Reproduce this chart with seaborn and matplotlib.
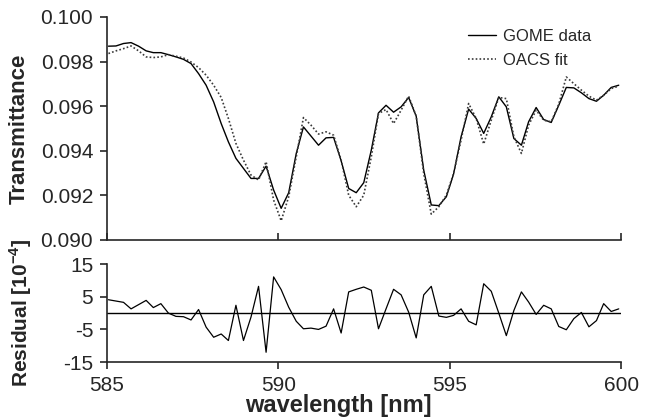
import numpy as np
import pandas as pd
import matplotlib
matplotlib.use('Agg')
import matplotlib.pyplot as plt
import seaborn as sns

# wavelength grid of the GOME channel (nm)
wavelength = [585.04, 585.26, 585.48, 585.70, 585.92, 586.14, 586.35, 586.57, 586.79, 587.01,
              587.23, 587.45, 587.67, 587.89, 588.11, 588.33, 588.54, 588.76, 588.98, 589.20,
              589.42, 589.64, 589.86, 590.08, 590.30, 590.52, 590.73, 590.95, 591.17, 591.39,
              591.61, 591.83, 592.05, 592.27, 592.49, 592.71, 592.92, 593.14, 593.36, 593.58,
              593.80, 594.02, 594.24, 594.46, 594.68, 594.90, 595.11, 595.33, 595.55, 595.77,
              595.99, 596.21, 596.43, 596.65, 596.87, 597.09, 597.30, 597.52, 597.74, 597.96,
              598.18, 598.40, 598.62, 598.84, 599.06, 599.28, 599.49, 599.71, 599.93]

gome = [0.09869, 0.09870, 0.09881, 0.09885, 0.09869, 0.09848, 0.09840, 0.09840, 0.09831, 0.09821,
        0.09810, 0.09791, 0.09746, 0.09694, 0.09619, 0.09522, 0.09440, 0.09366, 0.09321, 0.09276,
        0.09276, 0.09331, 0.09224, 0.09142, 0.09212, 0.09388, 0.09507, 0.09466, 0.09425, 0.09458,
        0.09460, 0.09355, 0.09231, 0.09212, 0.09257, 0.09403, 0.09570, 0.09604, 0.09573, 0.09597,
        0.09639, 0.09555, 0.09313, 0.09157, 0.09154, 0.09194, 0.09295, 0.09463, 0.09587, 0.09545,
        0.09478, 0.09552, 0.09642, 0.09597, 0.09455, 0.09425, 0.09530, 0.09594, 0.09540, 0.09527,
        0.09604, 0.09684, 0.09682, 0.09660, 0.09634, 0.09622, 0.09649, 0.09684, 0.09694]

oacs_fit = [0.09836, 0.09848, 0.09858, 0.09870, 0.09848, 0.09821, 0.09818, 0.09821, 0.09831, 0.09824,
            0.09816, 0.09798, 0.09773, 0.09739, 0.09694, 0.09639, 0.09545, 0.09433, 0.09358, 0.09291,
            0.09269, 0.09351, 0.09179, 0.09086, 0.09194, 0.09373, 0.09549, 0.09515, 0.09475, 0.09485,
            0.09470, 0.09358, 0.09201, 0.09149, 0.09201, 0.09373, 0.09567, 0.09585, 0.09522, 0.09582,
            0.09645, 0.09555, 0.09298, 0.09116, 0.09149, 0.09201, 0.09298, 0.09448, 0.09612, 0.09545,
            0.09430, 0.09537, 0.09639, 0.09634, 0.09463, 0.09388, 0.09515, 0.09582, 0.09537, 0.09530,
            0.09609, 0.09731, 0.09701, 0.09672, 0.09645, 0.09627, 0.09649, 0.09679, 0.09690]

# residual in units of 1e-4
residual = [4.1, 3.7, 3.3, 1.3, 2.6, 3.9, 1.7, 2.9, 0.0, -1.0,
            -1.1, -2.1, 1.1, -4.3, -7.4, -6.4, -8.4, 2.4, -8.4, -1.2,
            8.2, -12.0, 11.1, 7.2, 1.8, -2.5, -4.8, -4.6, -5.0, -4.0,
            1.3, -6.1, 6.5, 7.3, 8.0, 7.0, -4.8, 1.3, 7.3, 5.6,
            0.3, -7.6, 5.6, 8.2, -0.9, -1.3, -0.7, 1.3, -2.5, -3.6,
            9.0, 6.7, 0.0, -6.9, 0.8, 6.5, 3.4, -0.4, 2.4, 1.3,
            -4.1, -5.1, -1.7, 0.2, -4.2, -2.3, 2.9, 0.5, 1.3]

x_ticks = [585, 590, 595, 600]
trans_ticks = [0.090, 0.092, 0.094, 0.096, 0.098, 0.100]
resid_ticks = [-15, -5, 5, 15]
resid_labels = ['-15', '-5', '5', '15']

df = pd.DataFrame({'wavelength': wavelength, 'gome': gome,
                   'fit': oacs_fit, 'residual': residual})

sns.set_style('ticks')
plt.rcParams['font.family'] = ['Liberation Sans', 'DejaVu Sans']
plt.rcParams['mathtext.fontset'] = 'custom'
plt.rcParams['mathtext.rm'] = 'Liberation Sans'
plt.rcParams['mathtext.bf'] = 'Liberation Sans:bold'
plt.rcParams['axes.unicode_minus'] = False

fig = plt.figure(figsize=(6.45, 4.2), dpi=100)
ax1 = fig.add_axes([0.166, 0.4286, 0.797, 0.531])
ax2 = fig.add_axes([0.166, 0.138, 0.797, 0.233])

sns.lineplot(data=df, x='wavelength', y='gome', ax=ax1, color='black',
             linewidth=1.0, label='GOME data')
sns.lineplot(data=df, x='wavelength', y='fit', ax=ax1, color='#3a3a3a',
             linewidth=1.2, linestyle=(0, (1, 1.3)), label='OACS fit')

ax1.set_xlim(585, 600)
ax1.set_ylim(0.090, 0.100)
ax1.set_xticks(x_ticks)
ax1.set_xticklabels([])
ax1.set_yticks(trans_ticks)
ax1.set_yticklabels([f'{v:.3f}' for v in trans_ticks])
ax1.tick_params(axis='x', direction='in', length=5, width=1.2)
ax1.tick_params(axis='y', direction='out', length=5, width=1.2, labelsize=15, pad=5)
ax1.set_xlabel('')
ax1.set_ylabel('Transmittance', fontsize=16, fontweight='bold')
ax1.yaxis.set_label_coords(-0.15, 0.5)

ax1.legend(loc='upper left', bbox_to_anchor=(468 / 645, 1 - 29 / 420),
           bbox_transform=fig.transFigure, frameon=False, fontsize=12,
           handlelength=1.7, handletextpad=0.4, borderpad=0, borderaxespad=0,
           labelspacing=0.55)

sns.lineplot(data=df, x='wavelength', y='residual', ax=ax2, color='black', linewidth=0.9)
ax2.axhline(0, color='black', linewidth=1.0)
ax2.set_xlim(585, 600)
ax2.set_ylim(-15, 15)
ax2.set_xticks(x_ticks)
ax2.set_xticklabels([str(t) for t in x_ticks])
ax2.set_yticks(resid_ticks)
ax2.set_yticklabels(resid_labels)
ax2.tick_params(axis='both', direction='out', length=5, width=1.2, labelsize=15, pad=5)
ax2.set_xlabel('wavelength [nm]', fontsize=17, fontweight='bold')
ax2.xaxis.set_label_coords(0.449, -0.33)
ax2.set_ylabel(r'Residual [10$^{\mathbf{-4}}$]', fontsize=15, fontweight='bold')
ax2.yaxis.set_label_coords(-0.143, 0.5)

for ax in (ax1, ax2):
    sns.despine(ax=ax)
    for side in ('left', 'bottom'):
        ax.spines[side].set_linewidth(1.2)

fig.savefig('out.png', dpi=100)
